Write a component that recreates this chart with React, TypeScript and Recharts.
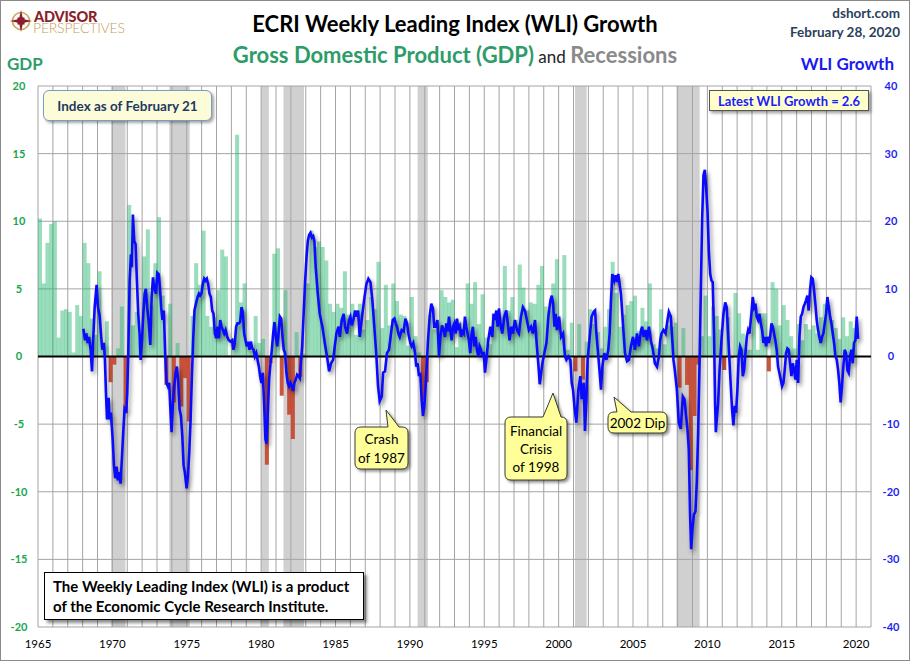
import React from 'react';
import {
  ComposedChart,
  Bar,
  Line,
  XAxis,
  YAxis,
  CartesianGrid,
  ReferenceArea,
  ReferenceLine,
  Cell,
} from 'recharts';

// quarterly real GDP growth (SAAR %), 1965 Q1 .. 2019 Q4
const GDP_START = 1965;
const GDP_GROWTH = [
  10.2, 5.4, 8.4, 9.8, // 1965
  10.0, 1.4, 3.4, 3.5,
  3.3, 0.3, 3.8, 3.0,
  8.4, 6.9, 2.8, 1.6,
  6.3, 1.1, 2.6, -1.9,
  -0.6, 0.6, 3.7, -4.2, // 1970
  11.2, 2.3, 3.3, 1.1,
  7.4, 9.4, 3.8, 6.9,
  10.3, 4.5, -2.1, 3.9,
  -3.4, 1.0, -3.7, -1.6,
  -4.8, 3.0, 6.9, 5.3, // 1975
  9.3, 3.0, 2.2, 2.9,
  4.9, 7.9, 7.4, 0.1,
  1.3, 16.4, 4.0, 5.4,
  0.7, 0.4, 3.0, 1.0,
  1.3, -8.0, -0.5, 7.6, // 1980
  8.0, -2.9, 4.9, -4.3,
  -6.1, 1.8, -1.5, 0.2,
  5.4, 9.3, 8.1, 8.5,
  8.1, 7.1, 3.9, 3.3,
  3.9, 3.6, 6.3, 3.1, // 1985
  3.9, 1.6, 3.9, 2.0,
  2.7, 4.4, 3.5, 7.0,
  2.1, 5.3, 2.3, 5.4,
  4.1, 3.1, 3.0, 0.8,
  4.4, 1.5, 0.3, -3.2, // 1990
  -1.9, 3.1, 2.0, 1.9,
  4.9, 4.4, 4.0, 4.2,
  0.7, 2.5, 1.9, 5.4,
  3.9, 5.5, 2.4, 4.6,
  1.4, 0.9, 3.2, 3.0, // 1995
  2.9, 6.7, 3.4, 4.4,
  2.7, 6.8, 5.1, 3.4,
  4.0, 3.9, 5.3, 6.7,
  3.7, 3.4, 5.4, 7.2,
  1.5, 7.5, 0.5, 2.5, // 2000
  -1.1, 2.4, -1.7, 1.1,
  3.5, 2.4, 1.8, 0.6,
  2.2, 3.5, 7.0, 4.7,
  2.2, 3.1, 3.8, 4.1,
  4.5, 1.9, 3.6, 2.6, // 2005
  5.4, 0.9, 0.6, 3.5,
  0.9, 2.3, 2.2, 2.5,
  -2.3, 2.1, -2.1, -8.4,
  -4.4, -0.6, 1.5, 4.5,
  1.5, 3.7, 3.0, 2.0, // 2010
  -1.0, 2.9, -0.1, 4.7,
  3.2, 1.7, 0.5, 0.5,
  3.6, 0.5, 3.2, 3.2,
  -1.1, 5.5, 5.0, 2.3,
  3.8, 2.7, 1.5, 0.6, // 2015
  2.4, 1.2, 2.4, 2.0,
  2.3, 1.7, 2.9, 3.9,
  3.8, 2.7, 2.1, 1.3,
  2.9, 1.5, 2.6, 2.1,
];

// ECRI WLI growth, [decimal year, %]
const WLI: [number, number][] = [
  [1968.05, 4.1], [1968.16, 2.4], [1968.25, 3.4], [1968.34, 2.0], [1968.43, 2.9], [1968.54, 1.0],
  [1968.63, -2.2], [1968.69, 1.5], [1968.81, 7.3], [1968.94, 10.6], [1969.03, 7.3], [1969.14, 6.1],
  [1969.25, 2.9], [1969.32, 1.0], [1969.43, 2.0], [1969.5, -0.5], [1969.57, -5.4], [1969.64, -9.3],
  [1969.75, -6.1], [1969.81, -9.3], [1969.9, -8.3], [1970.02, -12.2], [1970.11, -16.1], [1970.19, -18.0],
  [1970.28, -16.3], [1970.37, -18.3], [1970.46, -17.1], [1970.55, -18.8], [1970.64, -15.1], [1970.73, -11.2],
  [1970.82, -7.8], [1970.93, -8.3], [1971.0, -5.4], [1971.07, 0.5], [1971.16, 11.2], [1971.25, 15.1],
  [1971.31, 13.2], [1971.38, 21.0], [1971.47, 17.1], [1971.56, 16.6], [1971.65, 11.2], [1971.74, 6.3],
  [1971.83, 3.4], [1971.9, -0.5], [1971.99, 2.4], [1972.08, 6.3], [1972.17, 9.3], [1972.25, 10.0],
  [1972.34, 7.3], [1972.43, 5.4], [1972.55, 1.7], [1972.64, 8.8], [1972.73, 11.7], [1972.81, 10.2],
  [1972.93, 9.3], [1973.02, 12.4], [1973.11, 12.2], [1973.2, 10.2], [1973.28, 7.3], [1973.37, 5.4],
  [1973.46, 6.8], [1973.55, 0.5], [1973.64, -3.9], [1973.73, -4.4], [1973.82, -3.9], [1973.89, -7.3],
  [1973.98, -11.2], [1974.07, -6.8], [1974.16, -4.4], [1974.25, -2.4], [1974.34, -1.5], [1974.43, -3.9],
  [1974.52, -7.8], [1974.61, -8.8], [1974.7, -11.7], [1974.79, -16.1], [1974.87, -17.1], [1974.99, -19.5],
  [1975.08, -17.6], [1975.17, -14.1], [1975.26, -9.3], [1975.34, -3.4], [1975.43, 2.4], [1975.52, 6.8],
  [1975.64, 8.0], [1975.73, 8.8], [1975.82, 9.3], [1975.9, 9.0], [1975.99, 9.3], [1976.08, 10.7],
  [1976.17, 11.5], [1976.26, 11.2], [1976.35, 11.5], [1976.44, 10.7], [1976.53, 9.3], [1976.62, 8.8],
  [1976.71, 6.8], [1976.8, 6.3], [1976.89, 3.4], [1976.98, 2.7], [1977.07, 4.4], [1977.16, 2.7],
  [1977.25, 5.4], [1977.34, 4.4], [1977.43, 3.9], [1977.52, 3.4], [1977.61, 3.9], [1977.72, 2.9],
  [1977.83, 2.4], [1977.94, 2.2], [1978.05, 2.4], [1978.14, 1.0], [1978.23, 2.0], [1978.32, 4.4],
  [1978.41, 4.9], [1978.5, 4.9], [1978.59, 5.1], [1978.68, 7.3], [1978.77, 6.6], [1978.86, 3.4],
  [1978.95, 2.4], [1979.04, 1.5], [1979.13, 2.2], [1979.22, 1.0], [1979.31, 2.2], [1979.4, 1.2],
  [1979.49, 1.0], [1979.58, 0.0], [1979.67, 0.5], [1979.76, -0.5], [1979.85, -1.5], [1979.93, -2.9],
  [1980.02, -3.9], [1980.11, -2.4], [1980.2, -6.8], [1980.29, -12.2], [1980.36, -12.9], [1980.45, -8.3],
  [1980.54, -3.4], [1980.63, -1.0], [1980.72, 1.0], [1980.81, 3.4], [1980.9, 5.1], [1980.99, 2.9],
  [1981.08, 1.5], [1981.17, 3.4], [1981.26, 5.9], [1981.35, 5.6], [1981.44, 2.9], [1981.52, 1.0],
  [1981.61, 0.5], [1981.7, -2.4], [1981.79, -3.9], [1981.88, -4.4], [1981.97, -3.9], [1982.06, -4.4],
  [1982.15, -5.1], [1982.24, -3.9], [1982.33, -3.4], [1982.42, -2.7], [1982.51, -2.9], [1982.6, -3.2],
  [1982.69, -0.5], [1982.76, 1.5], [1982.82, 4.4], [1982.89, 7.8], [1982.96, 11.2], [1983.05, 14.6],
  [1983.14, 17.1], [1983.23, 18.0], [1983.32, 18.3], [1983.41, 17.6], [1983.5, 17.8], [1983.58, 17.1],
  [1983.67, 13.2], [1983.81, 9.3], [1983.94, 6.3], [1984.12, 4.4], [1984.28, 2.0], [1984.43, 0.0],
  [1984.57, -2.2], [1984.7, -1.0], [1984.84, -0.5], [1984.95, 1.5], [1985.06, 3.4], [1985.2, 4.4],
  [1985.29, 2.9], [1985.42, 5.4], [1985.55, 6.3], [1985.64, 4.4], [1985.78, 3.4], [1985.91, 5.4],
  [1986.0, 5.9], [1986.09, 4.6], [1986.2, 5.4], [1986.32, 6.8], [1986.4, 5.9], [1986.52, 6.8],
  [1986.63, 2.9], [1986.76, 5.4], [1986.92, 8.3], [1987.08, 10.7], [1987.21, 11.5], [1987.35, 11.0],
  [1987.48, 8.3], [1987.61, 4.4], [1987.75, 0.0], [1987.86, -4.4], [1987.97, -6.6], [1988.11, -5.9],
  [1988.2, -2.4], [1988.33, -2.2], [1988.46, 0.5], [1988.6, 1.0], [1988.73, 3.4], [1988.85, 5.4],
  [1988.96, 5.6], [1989.05, 4.9], [1989.14, 4.4], [1989.23, 3.4], [1989.32, 2.9], [1989.45, 3.9],
  [1989.58, 3.7], [1989.7, 5.6], [1989.81, 4.9], [1989.9, 3.4], [1990.03, 2.0], [1990.12, 1.5],
  [1990.23, 2.0], [1990.35, 0.5], [1990.43, -1.5], [1990.52, -1.0], [1990.61, -2.9], [1990.7, -2.4],
  [1990.79, -6.3], [1990.88, -8.8], [1990.97, -7.3], [1991.06, -4.4], [1991.13, -1.5], [1991.22, 2.4],
  [1991.33, 5.9], [1991.44, 7.8], [1991.55, 7.1], [1991.64, 4.4], [1991.73, 4.4], [1991.85, 5.4],
  [1991.96, 0.0], [1992.05, 2.9], [1992.16, 4.6], [1992.27, 3.9], [1992.36, 2.9], [1992.45, 4.9],
  [1992.54, 3.7], [1992.63, 5.9], [1992.72, 3.9], [1992.81, 2.4], [1992.9, 4.4], [1992.99, 4.9],
  [1993.08, 3.4], [1993.17, 5.6], [1993.26, 3.9], [1993.35, 4.4], [1993.44, 2.9], [1993.53, 3.7],
  [1993.62, 3.4], [1993.7, 5.9], [1993.79, 4.4], [1993.88, 3.4], [1993.97, 2.4], [1994.06, 0.5],
  [1994.15, 3.4], [1994.24, 4.4], [1994.33, 1.5], [1994.42, 2.9], [1994.51, 1.0], [1994.6, 0.0],
  [1994.69, 1.5], [1994.78, 1.0], [1994.87, 0.0], [1994.96, 0.7], [1995.05, -2.4], [1995.14, -0.5],
  [1995.27, 2.4], [1995.41, 4.4], [1995.54, 2.9], [1995.63, 6.3], [1995.72, 5.4], [1995.81, 6.8],
  [1995.9, 4.4], [1995.99, 7.1], [1996.08, 4.9], [1996.21, 3.4], [1996.35, 5.9], [1996.48, 6.8],
  [1996.61, 4.4], [1996.7, 2.4], [1996.82, 4.4], [1996.93, 3.4], [1997.06, 5.4], [1997.2, 3.9],
  [1997.33, 3.4], [1997.47, 5.9], [1997.6, 7.3], [1997.73, 6.8], [1997.87, 5.4], [1998.0, 3.9],
  [1998.14, 4.4], [1998.27, 3.4], [1998.41, 5.4], [1998.54, 1.5], [1998.65, -1.5], [1998.73, -4.1],
  [1998.91, -1.0], [1999.04, 0.5], [1999.18, 2.0], [1999.31, 5.9], [1999.45, 8.3], [1999.54, 9.0],
  [1999.63, 7.8], [1999.72, 4.4], [1999.8, 6.3], [1999.89, 3.9], [2000.03, 5.9], [2000.16, 2.9],
  [2000.3, 3.4], [2000.43, 0.0], [2000.52, -0.5], [2000.65, 0.0], [2000.79, -0.5], [2000.88, -3.9],
  [2000.97, -4.9], [2001.06, -7.3], [2001.19, -9.8], [2001.33, -4.9], [2001.46, -2.9], [2001.55, -6.3],
  [2001.69, -3.9], [2001.77, -11.0], [2001.86, -6.8], [2001.95, -0.5], [2002.09, 2.9], [2002.22, 5.9],
  [2002.36, 6.6], [2002.45, 6.8], [2002.54, 3.4], [2002.67, 0.0], [2002.76, -2.4], [2002.85, -4.9],
  [2002.94, -1.5], [2003.07, 0.5], [2003.21, -0.5], [2003.34, 1.0], [2003.43, 3.4], [2003.52, 8.3],
  [2003.61, 12.2], [2003.74, 11.2], [2003.83, 12.0], [2003.92, 11.0], [2004.01, 12.2], [2004.1, 10.7],
  [2004.19, 9.3], [2004.28, 6.3], [2004.37, 3.4], [2004.46, 0.5], [2004.6, -0.7], [2004.73, -0.5],
  [2004.86, 1.5], [2005.0, 2.9], [2005.13, 1.0], [2005.27, 3.4], [2005.4, 1.5], [2005.54, 3.9],
  [2005.62, 4.4], [2005.71, 2.9], [2005.85, 3.9], [2005.94, 2.4], [2006.07, 4.4], [2006.2, 2.4],
  [2006.34, 1.0], [2006.47, -1.0], [2006.61, -1.5], [2006.74, 0.0], [2006.83, 2.4], [2006.92, 3.4],
  [2007.05, 3.9], [2007.19, 3.4], [2007.32, 5.4], [2007.41, 6.6], [2007.54, 5.9], [2007.63, 2.9],
  [2007.72, -0.5], [2007.81, -2.0], [2007.95, -4.9], [2008.08, -9.8], [2008.21, -10.7], [2008.35, -5.9],
  [2008.46, -6.3], [2008.57, -8.8], [2008.66, -10.7], [2008.75, -13.7], [2008.84, -23.4], [2008.91, -28.5],
  [2009.0, -25.4], [2009.09, -23.4], [2009.2, -22.9], [2009.29, -18.5], [2009.38, -11.2], [2009.47, -1.5],
  [2009.56, 9.8], [2009.65, 20.5], [2009.74, 26.8], [2009.83, 27.6], [2009.92, 24.9], [2010.01, 21.5],
  [2010.1, 15.6], [2010.19, 12.2], [2010.28, 11.2], [2010.36, 11.0], [2010.45, 3.0], [2010.52, -7.0],
  [2010.57, -11.2], [2010.64, -9.0], [2010.72, -7.0], [2010.82, -2.0], [2010.95, 2.5], [2011.08, 6.3],
  [2011.2, 8.0], [2011.3, 7.3], [2011.38, 4.0], [2011.46, 0.5], [2011.55, -3.4], [2011.66, -7.8],
  [2011.75, -10.2], [2011.84, -7.3], [2011.93, -8.3], [2012.02, -4.9], [2012.11, 0.0], [2012.2, 1.5],
  [2012.29, 1.0], [2012.38, -2.9], [2012.47, -2.0], [2012.56, 0.5], [2012.65, 2.9], [2012.74, 3.9],
  [2012.83, 3.4], [2012.96, 6.3], [2013.05, 8.8], [2013.14, 7.3], [2013.23, 7.8], [2013.32, 5.9],
  [2013.41, 5.4], [2013.5, 6.3], [2013.59, 4.9], [2013.68, 3.9], [2013.77, 2.0], [2013.86, 2.9],
  [2013.95, 1.5], [2014.04, 2.9], [2014.13, 2.0], [2014.22, 2.9], [2014.31, 4.9], [2014.4, 4.4],
  [2014.48, 3.4], [2014.57, 2.4], [2014.66, 1.0], [2014.75, -1.5], [2014.84, -2.4], [2014.93, -3.4],
  [2015.02, -4.4], [2015.11, -3.9], [2015.2, -2.0], [2015.29, 0.5], [2015.38, 1.2], [2015.47, 1.0],
  [2015.56, -1.0], [2015.65, -2.9], [2015.74, -1.0], [2015.83, -2.0], [2015.92, -3.4], [2016.01, -0.5],
  [2016.1, -3.9], [2016.19, 2.9], [2016.28, 5.9], [2016.37, 6.3], [2016.46, 7.3], [2016.55, 7.8],
  [2016.63, 8.3], [2016.72, 9.0], [2016.81, 6.8], [2016.9, 9.8], [2016.99, 11.7], [2017.08, 11.5],
  [2017.17, 9.8], [2017.26, 7.8], [2017.35, 5.4], [2017.44, 3.9], [2017.53, 2.9], [2017.62, 2.0],
  [2017.71, 2.9], [2017.8, 3.4], [2017.89, 4.9], [2017.98, 6.3], [2018.07, 8.8], [2018.16, 7.3],
  [2018.25, 5.9], [2018.34, 4.9], [2018.43, 3.4], [2018.52, 2.0], [2018.61, 0.0], [2018.7, -0.5],
  [2018.79, -2.0], [2018.87, -3.9], [2018.96, -6.8], [2019.05, -4.4], [2019.14, -1.5], [2019.23, 1.0],
  [2019.32, 0.5], [2019.41, -2.0], [2019.5, -2.4], [2019.59, 0.0], [2019.68, 1.0], [2019.77, -1.0],
  [2019.86, 2.0], [2019.95, 2.4], [2020.04, 5.9], [2020.13, 2.6],
];

// NBER recessions, [start, end] as decimal years
const RECESSIONS: [number, number][] = [
  [1969.92, 1970.88],
  [1973.83, 1975.2],
  [1980.0, 1980.52],
  [1981.5, 1982.88],
  [1990.52, 1991.2],
  [2001.1, 2001.88],
  [2007.92, 2009.48],
];

const YEAR_TICKS = [1965, 1970, 1975, 1980, 1985, 1990, 1995, 2000, 2005, 2010, 2015, 2020];
const GDP_TICKS = [-20, -15, -10, -5, 0, 5, 10, 15, 20];
const WLI_TICKS = [-40, -30, -20, -10, 0, 10, 20, 30, 40];
const X_MIN = 1965;
const X_MAX = 2021;
const GRID_YEARS = Array.from({ length: X_MAX - X_MIN + 1 }, (_, i) => X_MIN + i);

const GREEN_BAR = '#22B46E';
const RED_BAR = '#C5472F';
const GRID = '#A4A4A4';
const AXIS_GREEN = '#17A74B';
const AXIS_BLUE = '#1F1FF0';
const TITLE_GREEN = '#2E9C69';
const FONT = 'Lato, "Open Sans", sans-serif';

// one row per quarter across the whole x range, so the quarter bands line up with the year axis
const QUARTERS = (X_MAX - X_MIN) * 4;
const gdpRows = Array.from({ length: QUARTERS }, (_, i) => ({
  q: i,
  t: GDP_START + i / 4 + 0.125,
  gdp: i < GDP_GROWTH.length ? GDP_GROWTH[i] : null,
}));
const wliRows = WLI.map(([t, v]) => ({ t, wli: v }));

// rounded box with a pointer on its top edge
function calloutPath(x0: number, y0: number, x1: number, y1: number, bx0: number, bx1: number, tx: number, ty: number) {
  const r = 6;
  return [
    `M${x0 + r},${y0}`,
    `L${bx0},${y0}`,
    `L${tx},${ty}`,
    `L${bx1},${y0}`,
    `L${x1 - r},${y0}`,
    `Q${x1},${y0} ${x1},${y0 + r}`,
    `L${x1},${y1 - r}`,
    `Q${x1},${y1} ${x1 - r},${y1}`,
    `L${x0 + r},${y1}`,
    `Q${x0},${y1} ${x0},${y1 - r}`,
    `L${x0},${y0 + r}`,
    `Q${x0},${y0} ${x0 + r},${y0}`,
    'Z',
  ].join(' ');
}

const Callouts = () => (
  <svg
    width={910}
    height={661}
    style={{ position: 'absolute', left: 0, top: 0, pointerEvents: 'none', fontFamily: FONT }}
  >
    <g style={{ filter: 'drop-shadow(2px 2px 1.5px rgba(0,0,0,0.45))' }}>
      <path d={calloutPath(355, 427, 408, 469, 388, 399, 386, 410)} fill="#FFFF99" stroke="#3a3a3a" strokeWidth={1} />
      <path d={calloutPath(505, 417, 567, 480, 543, 561, 553, 393)} fill="#FFFF99" stroke="#3a3a3a" strokeWidth={1} />
      <path d={calloutPath(608, 412, 667, 433, 617, 631, 614, 397)} fill="#FFFF99" stroke="#3a3a3a" strokeWidth={1} />
    </g>
    <g fontSize={13.5} fill="#000" textAnchor="middle">
      <text x={381.5} y={444}>Crash</text>
      <text x={381.5} y={463}>of 1987</text>
      <text x={536} y={436}>Financial</text>
      <text x={536} y={454}>Crisis</text>
      <text x={536} y={472}>of 1998</text>
      <text x={637.5} y={427.5}>2002 Dip</text>
    </g>
    {/* logo */}
    <g transform="translate(21,21)">
      <circle r={8.5} fill="none" stroke="#C9A55C" strokeWidth={1.6} />
      <polygon points="0,-11 2,-2 11,0 2,2 0,11 -2,2 -11,0 -2,-2" fill="#8B1E2B" />
      <polygon points="0,-5 5,0 0,5 -5,0" fill="#8B1E2B" transform="rotate(45)" />
    </g>
    <text letterSpacing={-0.2}>
      <tspan x={34} y={22} fontSize={14.5} fontWeight={900} fill="#8B1E2B">ADVISOR</tspan>
      <tspan x={33} y={32.5} fontSize={14} fontWeight={300} fill="#C2A05A">PERSPECTIVES</tspan>
    </text>
  </svg>
);

export default function App() {
  return (
    <div
      style={{
        position: 'absolute',
        left: 0,
        top: 0,
        width: 910,
        height: 661,
        background: '#fff',
        fontFamily: FONT,
        overflow: 'hidden',
      }}
    >
      <style>{`.wli-line path { filter: drop-shadow(2px 3px 2px rgba(0,0,0,0.45)); }`}</style>

      <ComposedChart
        width={910}
        height={661}
        data={gdpRows}
        margin={{ top: 86, right: 4, bottom: 4, left: 8 }}
        barCategoryGap={0}
        barGap={0}
        style={{ position: 'absolute', left: 0, top: 0, fontFamily: FONT }}
      >
        {RECESSIONS.map(([a, b]) => (
          <ReferenceArea
            key={`rec-${a}`}
            x1={a}
            x2={b}
            xAxisId="t"
            yAxisId="left"
            fill="#D0D0D0"
            fillOpacity={1}
            stroke="none"
            ifOverflow="hidden"
            zIndex={-150}
          />
        ))}
        <CartesianGrid xAxisId="t" yAxisId="left" vertical={false} stroke={GRID} strokeWidth={1} />
        {GRID_YEARS.map((yr) => (
          <ReferenceLine key={`g-${yr}`} x={yr} xAxisId="t" yAxisId="left" stroke={GRID} strokeWidth={1} zIndex={-90} />
        ))}
        <XAxis
          xAxisId="t"
          type="number"
          dataKey="t"
          domain={[X_MIN, X_MAX]}
          allowDataOverflow
          ticks={YEAR_TICKS}
          interval={0}
          height={30}
          axisLine={false}
          tickLine={false}
          tickSize={0}
          tickMargin={13}
          tick={{ fill: '#000', fontSize: 11.5 }}
        />
        <XAxis xAxisId="q" type="category" dataKey="q" hide height={0} />
        <YAxis
          yAxisId="left"
          domain={[-20, 20]}
          ticks={GDP_TICKS}
          interval={0}
          width={30}
          axisLine={false}
          tickLine={false}
          tickSize={0}
          tickMargin={19}
          tick={{ fill: AXIS_GREEN, fontSize: 11, fontWeight: 700, textAnchor: 'middle' }}
        />
        <YAxis
          yAxisId="right"
          orientation="right"
          domain={[-40, 40]}
          ticks={WLI_TICKS}
          interval={0}
          width={35}
          axisLine={false}
          tickLine={false}
          tickSize={0}
          tickMargin={20}
          tick={{ fill: AXIS_BLUE, fontSize: 11, fontWeight: 700, textAnchor: 'middle' }}
        />
        <Bar xAxisId="q" yAxisId="left" dataKey="gdp" isAnimationActive={false}>
          {gdpRows.map((r, i) => (
            <Cell
              key={`c-${i}`}
              fill={r.gdp !== null && r.gdp < 0 ? RED_BAR : GREEN_BAR}
              fillOpacity={r.gdp !== null && r.gdp < 0 ? 0.92 : 0.46}
            />
          ))}
        </Bar>
        <ReferenceLine y={0} xAxisId="t" yAxisId="left" stroke="#000" strokeWidth={2} zIndex={350} />
        <Line
          data={wliRows}
          xAxisId="t"
          yAxisId="right"
          dataKey="wli"
          type="linear"
          stroke="#0A0AFF"
          strokeWidth={2.6}
          dot={false}
          activeDot={false}
          className="wli-line"
          isAnimationActive={false}
        />
      </ComposedChart>

      <Callouts />

      {/* titles */}
      <div style={{ position: 'absolute', left: 0, top: 10, width: 910, textAlign: 'center', fontSize: 22, fontWeight: 700, color: '#000', lineHeight: '28px' }}>
        ECRI Weekly Leading Index (WLI) Growth
      </div>
      <div style={{ position: 'absolute', left: 0, top: 40, width: 910, textAlign: 'center', lineHeight: '30px', whiteSpace: 'nowrap' }}>
        <span style={{ fontSize: 22, fontWeight: 700, color: TITLE_GREEN }}>Gross Domestic Product (GDP)</span>
        <span style={{ fontSize: 17, color: '#222' }}> and </span>
        <span style={{ fontSize: 22, fontWeight: 700, color: '#8A8A8A' }}>Recessions</span>
      </div>

      <div style={{ position: 'absolute', right: 10, top: 4, textAlign: 'right', fontSize: 13.5, fontWeight: 700, color: '#2B3F5C', lineHeight: '19px' }}>
        <div>dshort.com</div>
        <div>February 28, 2020</div>
      </div>

      <div style={{ position: 'absolute', left: 7, top: 53, fontSize: 17, fontWeight: 700, color: TITLE_GREEN }}>GDP</div>
      <div style={{ position: 'absolute', right: 16, top: 53, fontSize: 17, fontWeight: 700, color: '#1A1AEE' }}>WLI Growth</div>

      {/* text boxes */}
      <div
        style={{
          position: 'absolute', left: 43, top: 90, width: 169, height: 31, boxSizing: 'border-box',
          background: '#FDFCD8', border: '1.5px solid #7C9CC8', borderRadius: 6,
          boxShadow: '2px 2px 3px rgba(0,0,0,0.35)', color: '#1F3864', fontSize: 13.5, fontWeight: 700,
          display: 'flex', alignItems: 'center', justifyContent: 'center', whiteSpace: 'nowrap',
        }}
      >
        Index as of February 21
      </div>
      <div
        style={{
          position: 'absolute', left: 709, top: 90, width: 160, height: 21, boxSizing: 'border-box',
          background: '#FFFFCC', border: '1px solid #555', boxShadow: '2px 2px 3px rgba(0,0,0,0.4)',
          color: '#1A1AFF', fontSize: 13, fontWeight: 700,
          display: 'flex', alignItems: 'center', justifyContent: 'center', whiteSpace: 'nowrap',
        }}
      >
        Latest WLI Growth = 2.6
      </div>
      <div
        style={{
          position: 'absolute', left: 44, top: 572, width: 320, height: 48, boxSizing: 'border-box',
          background: '#fff', border: '1px solid #000', boxShadow: '3px 3px 3px rgba(0,0,0,0.45)',
          color: '#000', fontSize: 15, fontWeight: 700, lineHeight: '20px', padding: '3px 0 0 8px', whiteSpace: 'nowrap',
        }}
      >
        <div>The Weekly Leading Index (WLI) is a product</div>
        <div>of the Economic Cycle Research Institute.</div>
      </div>

      <div style={{ position: 'absolute', left: 0, top: 0, width: 910, height: 661, boxSizing: 'border-box', border: '1px solid #8a8a8a', pointerEvents: 'none' }} />
    </div>
  );
}
